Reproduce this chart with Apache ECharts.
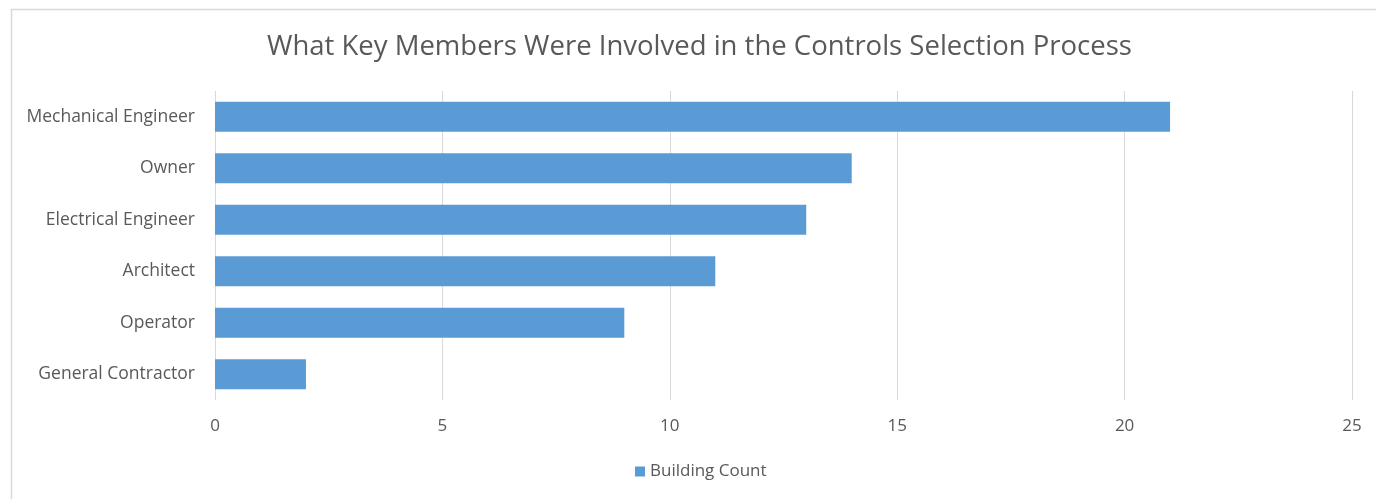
<!DOCTYPE html>
<html>
<head>
<meta charset="utf-8">
<script src="https://cdn.jsdelivr.net/npm/echarts@6/dist/echarts.min.js"></script>
<style>
  html, body { margin: 0; padding: 0; background: #fff; }
  #chart { width: 1376px; height: 499px; }
</style>
</head>
<body>
<div id="chart"></div>
<script>
// Roles involved in choosing building controls, top to bottom
const categories = [
  'Mechanical Engineer',
  'Owner',
  'Electrical Engineer',
  'Architect',
  'Operator',
  'General Contractor'
];
const buildingCount = [21, 14, 13, 11, 9, 2];
const seriesName = 'Building Count';
const titleText = 'What Key Members Were Involved in the Controls Selection Process';

const FONT = '"Open Sans", "Noto Sans", sans-serif';
const TEXT = '#595959';

const chart = echarts.init(document.getElementById('chart'));
chart.setOption({
  animation: false,
  backgroundColor: '#fff',
  graphic: [{
    type: 'rect',
    left: 9, top: 7,
    shape: { width: 1400, height: 520 },
    style: { fill: 'none', stroke: '#d9d9d9', lineWidth: 1.5 },
    silent: true
  }],
  title: {
    text: titleText,
    left: 262,
    top: 28,
    textStyle: { fontFamily: FONT, fontSize: 27.5, fontWeight: 'normal', color: TEXT }
  },
  legend: {
    bottom: 14,
    left: 630,
    itemWidth: 10,
    itemHeight: 10,
    itemGap: 8,
    icon: 'rect',
    textStyle: { fontFamily: FONT, fontSize: 17, color: TEXT }
  },
  grid: { left: 215, right: 24, top: 91, bottom: 99, containLabel: false },
  xAxis: {
    type: 'value',
    min: 0, max: 25, interval: 5,
    axisLine: { show: false },
    axisTick: { show: false },
    splitLine: { lineStyle: { color: '#d9d9d9', width: 1 } },
    axisLabel: { fontFamily: FONT, fontSize: 17, color: TEXT, margin: 18 }
  },
  yAxis: {
    type: 'category',
    data: categories,
    inverse: true,
    axisLine: { show: false },
    axisTick: { show: false },
    axisLabel: { fontFamily: FONT, fontSize: 17.5, color: TEXT, margin: 20 }
  },
  series: [{
    name: seriesName,
    type: 'bar',
    data: buildingCount,
    barCategoryGap: '42%',
    itemStyle: { color: '#5B9BD5' }
  }]
});
</script>
</body>
</html>
